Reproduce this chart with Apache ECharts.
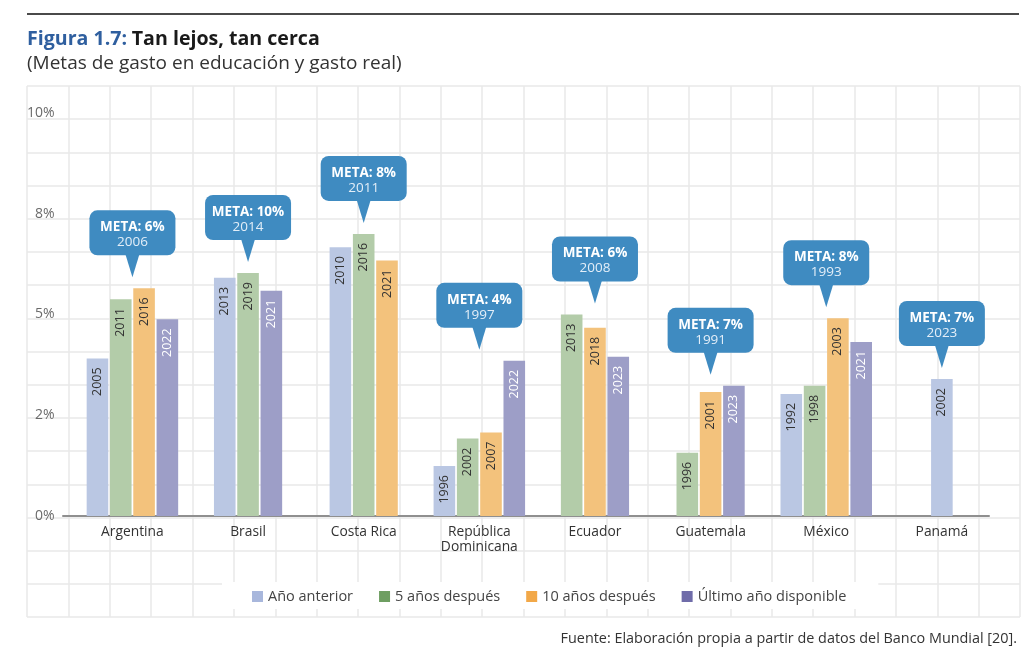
<!DOCTYPE html>
<html><head><meta charset="utf-8">
<script src="https://cdn.jsdelivr.net/npm/echarts@6/dist/echarts.min.js"></script>
<style>html,body{margin:0;padding:0;background:#fff}#c{width:1024px;height:653px}</style>
</head><body><div id="c"></div>
<script>
// ---- data ----
const categories = ['Argentina','Brasil','Costa Rica','República\nDominicana','Ecuador','Guatemala','México','Panamá'];
const seriesNames = ['Año anterior','5 años después','10 años después','Último año disponible'];
const anteriorValues = [3.91, 5.91, 6.67, 1.24, null, null, 3.03, 3.40];
const anteriorYears  = [2005, 2013, 2010, 1996, null, null, 1992, 2002];
const cincoValues    = [5.38, 6.03, 7.00, 1.92, 5.00, 1.57, 3.23, null];
const cincoYears     = [2011, 2019, 2016, 2002, 2013, 1996, 1998, null];
const diezValues     = [5.65, null, 6.34, 2.07, 4.67, 3.08, 4.91, null];
const diezYears      = [2016, null, 2021, 2007, 2018, 2001, 2003, null];
const ultimoValues   = [4.88, 5.59, null, 3.85, 3.95, 3.23, 4.32, null];
const ultimoYears    = [2022, 2021, null, 2022, 2023, 2023, 2021, null];
const metaPercent = [6, 10, 8, 4, 6, 7, 8, 7];
const metaYears   = [2006, 2014, 2011, 1997, 2008, 1991, 1993, 2023];
const yTickLabels = ['0%', '2%', '5%', '8%', '10%'];

// ---- styling ----
const FONT = '"Open Sans", sans-serif';
const barColors = ['#bac7e3', '#b3cca9', '#f3c27c', '#9d9ec7'];
const legendColors = ['#a8b7dc', '#6e9e61', '#f2a848', '#6f6ca9'];
const labelColors = ['#333333', '#333333', '#333333', '#ffffff'];
const bubbleColor = '#3f8bc1';

const allValues = [anteriorValues, cincoValues, diezValues, ultimoValues];
const allYears = [anteriorYears, cincoYears, diezYears, ultimoYears];

function makeBarRender(s) {
  return function (params, api) {
    const ci = api.value(0), v = api.value(1), yr = api.value(2);
    const present = allValues.map(a => a[ci] != null);
    const n = present.filter(Boolean).length;
    let slot = 0;
    for (let k = 0; k < s; k++) if (present[k]) slot++;
    const base = api.coord([ci, 0]);
    const top = api.coord([ci, v]);
    const slotW = 23.3, barW = 21.6;
    const x0 = base[0] - n * slotW / 2 + slot * slotW + (slotW - barW) / 2;
    return {
      type: 'group',
      children: [
        { type: 'rect', shape: { x: x0, y: top[1], width: barW, height: base[1] - top[1] },
          style: { fill: barColors[s] } },
        { type: 'text', x: x0 + barW / 2, y: top[1] + 9, rotation: Math.PI / 2,
          style: { text: String(yr), fill: labelColors[s], font: '12.5px ' + FONT,
                   align: 'right', verticalAlign: 'middle' } }
      ]
    };
  };
}

function bubbleRender(params, api) {
  const ci = api.value(0), maxV = api.value(1), meta = api.value(2), yr = api.value(3);
  const p = api.coord([ci, maxV]);
  const cx = p[0], tipY = p[1] - 11;
  const boxW = 86, boxH = 45, triH = 22, triHalf = 7;
  const boxTop = tipY - triH - boxH;
  return {
    type: 'group',
    children: [
      { type: 'rect', shape: { x: cx - boxW / 2, y: boxTop, width: boxW, height: boxH, r: 8 },
        style: { fill: bubbleColor } },
      { type: 'polygon', shape: { points: [[cx - triHalf, boxTop + boxH - 1], [cx + triHalf, boxTop + boxH - 1], [cx, tipY]] },
        style: { fill: bubbleColor } },
      { type: 'text', x: cx, y: boxTop + 17,
        style: { text: 'META: ' + meta + '%', fill: '#ffffff', font: 'bold 13.5px ' + FONT, align: 'center', verticalAlign: 'middle' } },
      { type: 'text', x: cx, y: boxTop + 32,
        style: { text: String(yr), fill: '#e3eef8', font: '13.5px ' + FONT, align: 'center', verticalAlign: 'middle' } }
    ]
  };
}

const barSeries = seriesNames.map((name, s) => ({
  name: name,
  type: 'custom',
  xAxisIndex: 1, yAxisIndex: 1,
  itemStyle: { color: barColors[s] },
  encode: { x: 0, y: 1 },
  renderItem: makeBarRender(s),
  data: allValues[s].map((v, i) => v == null ? null : [i, v, allYears[s][i]]).filter(Boolean),
  z: 3
}));

const bubbleData = categories.map((c, i) => {
  const vals = allValues.map(a => a[i]).filter(v => v != null);
  return [i, Math.max.apply(null, vals), metaPercent[i], metaYears[i]];
});

const chart = echarts.init(document.getElementById('c'), null, { renderer: 'canvas' });
chart.setOption({
  animation: false,
  backgroundColor: '#ffffff',
  textStyle: { fontFamily: FONT },
  title: [
    { text: '{a|Figura 1.7:} {b|Tan lejos, tan cerca}', left: 22, top: 24,
      textStyle: { rich: {
        a: { fontFamily: FONT, fontSize: 19.6, fontWeight: 'bold', color: '#2f5f9f' },
        b: { fontFamily: FONT, fontSize: 19.6, fontWeight: 'bold', color: '#1a1a1a' } } } },
    { text: '(Metas de gasto en educación y gasto real)', left: 22, top: 49,
      textStyle: { fontFamily: FONT, fontSize: 19, fontWeight: 'normal', color: '#333333' } },
    { text: 'Fuente: Elaboración propia a partir de datos del Banco Mundial [20].', right: 2, top: 627,
      textStyle: { fontFamily: FONT, fontSize: 14.4, fontWeight: 'normal', color: '#333333' } }
  ],
  graphic: [
    { type: 'line', shape: { x1: 27, y1: 14, x2: 1019, y2: 14 }, style: { stroke: '#4a4a4a', lineWidth: 2 } }
  ],
  legend: {
    left: 222, top: 582,
    padding: [7, 32, 5, 30],
    backgroundColor: '#ffffff',
    icon: 'rect', itemWidth: 11, itemHeight: 11, itemGap: 26,
    textStyle: { fontFamily: FONT, fontSize: 14.5, color: '#444444' },
    data: seriesNames.map((n, s) => ({ name: n, itemStyle: { color: legendColors[s] } }))
  },
  grid: [
    { left: 27, right: 4, top: 86, bottom: 36 },
    { left: 74.6, right: 24.3, top: 113, bottom: 137 },
    { left: 63, right: 35, top: 113, bottom: 137 }
  ],
  xAxis: [
    { gridIndex: 0, type: 'value', min: 0, max: 24, interval: 1,
      axisLine: { show: false }, axisTick: { show: false }, axisLabel: { show: false },
      splitLine: { show: true, lineStyle: { color: '#e8e8e8', width: 1.5 } } },
    { gridIndex: 1, type: 'category', data: categories,
      axisLine: { show: false }, axisTick: { show: false },
      axisLabel: { fontFamily: FONT, fontSize: 13.8, color: '#333333', margin: 9, lineHeight: 15 },
      splitLine: { show: false } },
    { gridIndex: 2, type: 'value', min: 0, max: 1,
      axisLine: { show: true, onZero: false, lineStyle: { color: '#8f8f8f', width: 2 } },
      axisTick: { show: false }, axisLabel: { show: false }, splitLine: { show: false } }
  ],
  yAxis: [
    { gridIndex: 0, type: 'value', min: 0, max: 16, interval: 1,
      axisLine: { show: false }, axisTick: { show: false }, axisLabel: { show: false },
      splitLine: { show: true, lineStyle: { color: '#e8e8e8', width: 1.5 } } },
    { gridIndex: 1, type: 'value', min: 0, max: 10, interval: 2.5,
      axisLine: { show: false }, axisTick: { show: false }, splitLine: { show: false },
      axisLabel: { fontFamily: FONT, fontSize: 14, color: '#6a6a6a', margin: 20,
        formatter: v => yTickLabels[Math.round(v / 2.5)] } },
    { gridIndex: 2, type: 'value', min: 0, max: 1, show: false }
  ],
  series: barSeries.concat([{
    name: 'metas',
    type: 'custom',
    xAxisIndex: 1, yAxisIndex: 1,
    encode: { x: 0, y: 1 },
    renderItem: bubbleRender,
    data: bubbleData,
    z: 4
  }])
});
</script>
</body></html>
